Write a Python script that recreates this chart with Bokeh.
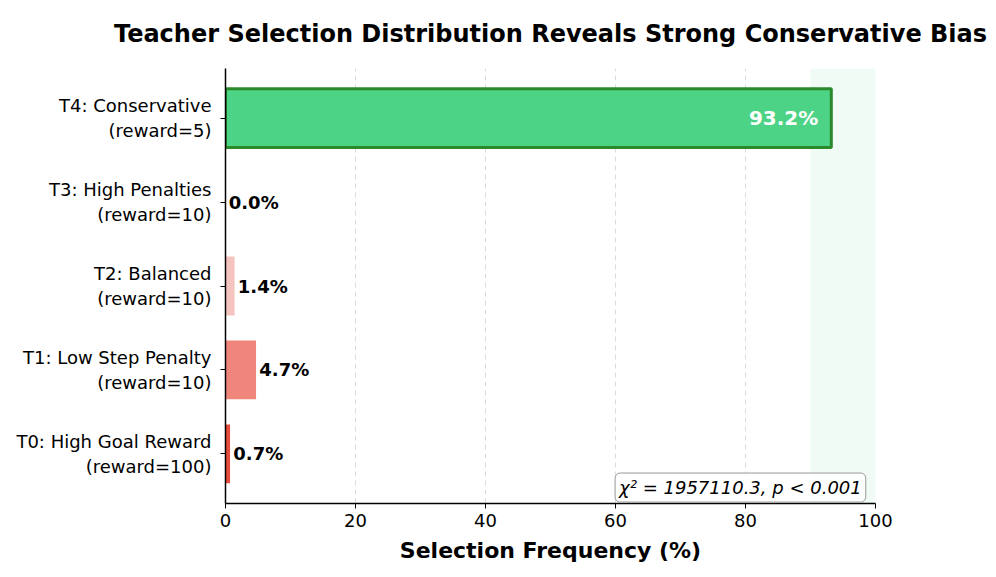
from bokeh.plotting import figure
from bokeh.models import FixedTicker, BoxAnnotation, Label, ColumnDataSource
from bokeh.embed import file_html
from bokeh.resources import INLINE

labels = ["T0: High Goal Reward\n(reward=100)", "T1: Low Step Penalty\n(reward=10)",
          "T2: Balanced\n(reward=10)", "T3: High Penalties\n(reward=10)",
          "T4: Conservative\n(reward=5)"]
freqs = [0.7, 4.7, 1.4, 0.0, 93.2]
colors = ["#e74c3c", "#ef857b", "#f6c4bf", "#fbe3e0", "#4dd385"]
chi_text = "χ² = 1957110.3, p < 0.001"
title = "Teacher Selection Distribution Reveals Strong Conservative Bias"
xlabel = "Selection Frequency (%)"
xticks = [0, 20, 40, 60, 80, 100]

ys = list(range(len(labels)))
p = figure(width=988, height=569, output_backend="svg", toolbar_location=None,
           x_range=(0, 100), y_range=(-0.59, 4.59),
           min_border_left=225, min_border_right=113, min_border_top=68, min_border_bottom=66)

p.title.text = title
p.title.text_font = "DejaVu Sans"
p.title.text_font_size = "24px"
p.title.text_font_style = "bold"
p.title.text_color = "black"
p.title.align = "center"
p.title.standoff = 38
p.title.vertical_align = "top"

p.add_layout(BoxAnnotation(left=90, right=100, fill_color="#2ecc71", fill_alpha=0.07, line_color=None, level="underlay"))

src = ColumnDataSource(dict(y=ys, right=freqs, color=colors))
p.hbar(y="y", left=0, right="right", height=0.7, source=src, fill_color="color", line_color=None)
p.hbar(y=[4], left=0, right=[freqs[4]], height=0.7, fill_color=None, line_color="#2a8a2a", line_width=3)

for i, v in enumerate(freqs):
    if v > 50:
        p.add_layout(Label(x=v - 2, y=i, text=f"{v:.1f}%", text_align="right", text_baseline="middle",
                           text_color="white", text_font="DejaVu Sans", text_font_style="bold",
                           text_font_size="20px"))
    else:
        p.add_layout(Label(x=v + 0.5, y=i, text=f"{v:.1f}%", text_align="left", text_baseline="middle",
                           text_color="black", text_font="DejaVu Sans", text_font_style="bold",
                           text_font_size="18px"))

p.add_layout(Label(x=98.5, y=-0.4, text=chi_text, text_align="right", text_baseline="middle",
                   text_font="DejaVu Sans", text_font_style="italic", text_font_size="18px",
                   text_color="black",
                   background_fill_color="white", background_fill_alpha=0.85,
                   border_line_color="#999999", border_line_width=1, border_radius=5,
                   padding=4))

p.yaxis.ticker = FixedTicker(ticks=ys)
p.yaxis.major_label_overrides = {i: l for i, l in enumerate(labels)}
p.xaxis.ticker = FixedTicker(ticks=xticks)
for ax in (p.xaxis, p.yaxis):
    ax.major_label_text_font = "DejaVu Sans"
    ax.major_label_text_font_size = "18px"
    ax.major_label_text_color = "black"
    ax.axis_line_color = "black"
    ax.axis_line_width = 1.5
    ax.major_tick_line_color = "black"
    ax.major_tick_in = 0
    ax.major_tick_out = 5
    ax.minor_tick_line_color = None
p.yaxis.major_label_standoff = 9
p.xaxis.major_label_standoff = 5
p.xaxis.axis_label = xlabel
p.xaxis.axis_label_text_font = "DejaVu Sans"
p.xaxis.axis_label_text_font_style = "bold"
p.xaxis.axis_label_text_font_size = "22px"
p.xaxis.axis_label_text_color = "black"
p.xaxis.axis_label_standoff = 8

p.ygrid.grid_line_color = None
p.xgrid.grid_line_color = "#cccccc"
p.xgrid.grid_line_alpha = 0.7
p.xgrid.grid_line_dash = "5 4"
p.outline_line_color = None
p.background_fill_color = "white"

open("out.html", "w").write(file_html(p, INLINE))
